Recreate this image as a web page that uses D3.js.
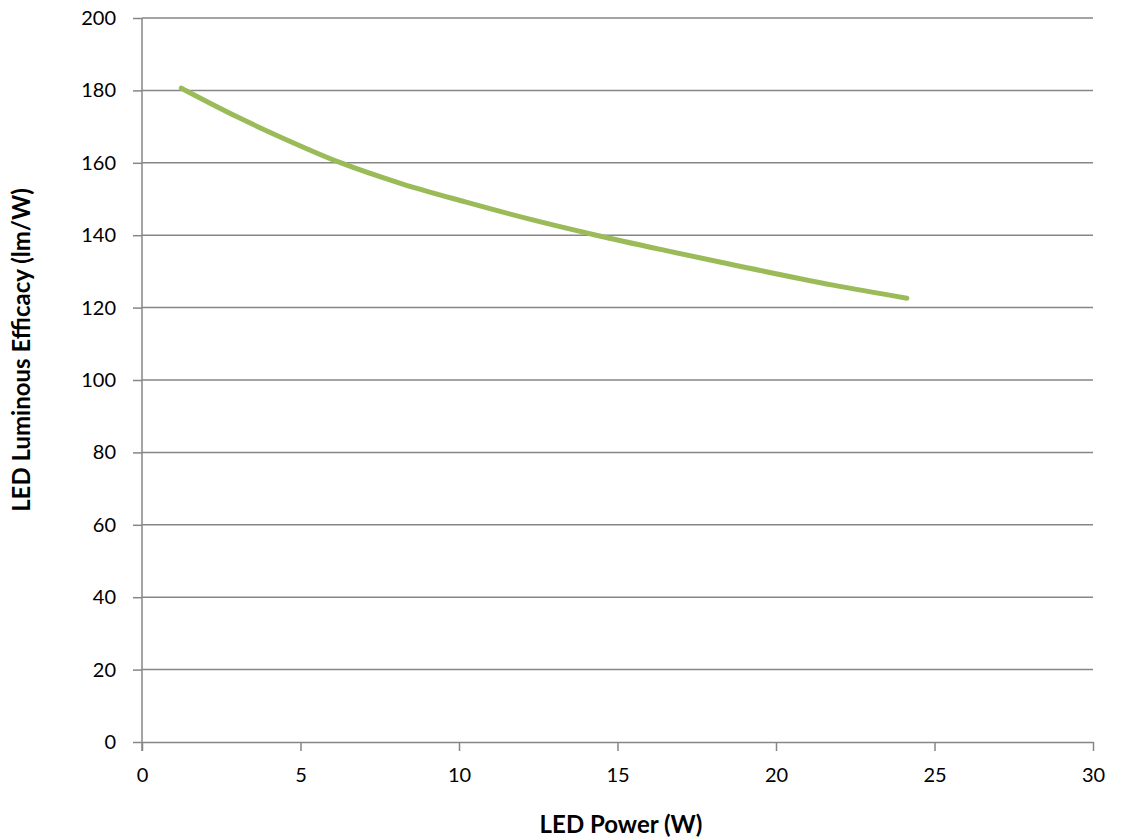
<!DOCTYPE html>
<html>
<head>
<meta charset="utf-8">
<script src="https://cdn.jsdelivr.net/npm/d3@7"></script>
<style>
    body { margin: 0; background: #fff; }
    svg { display: block; }
    text { font-family: Lato, "Open Sans", sans-serif; fill: #000; }
</style>
</head>
<body>
<div id="chart"></div>
<script>
// LED power (W) vs luminous efficacy (lm/W)
const powerW = [1.24, 3, 4.5, 6.24, 8.2, 10.2, 12.2, 14.33, 16.5, 18.6, 21.8, 24.13];
const efficacy = [180.6, 172.7, 166.6, 160.1, 154.2, 149.2, 144.5, 140.0, 135.8, 131.9, 126.2, 122.6];
const xTicks = [0, 5, 10, 15, 20, 25, 30];
const yTicks = [0, 20, 40, 60, 80, 100, 120, 140, 160, 180, 200];

const width = 1125, height = 839;
const margin = { top: 18, right: 32, bottom: 97, left: 142 };

const svg = d3.select("#chart").append("svg")
    .attr("width", width)
    .attr("height", height);

const x = d3.scaleLinear().domain([0, 30]).range([margin.left, width - margin.right]);
const y = d3.scaleLinear().domain([0, 200]).range([height - margin.bottom, margin.top]);

const gridColor = "#868686";

// horizontal gridlines
svg.append("g")
    .selectAll("line")
    .data(yTicks.filter(d => d > 0))
    .join("line")
    .attr("x1", x(0))
    .attr("x2", x(30))
    .attr("y1", d => y(d))
    .attr("y2", d => y(d))
    .attr("stroke", gridColor)
    .attr("stroke-width", 1.5);

// y axis
const yAxis = svg.append("g")
    .attr("transform", `translate(${x(0)},0)`)
    .call(d3.axisLeft(y).tickValues(yTicks).tickSize(9).tickPadding(17).tickSizeOuter(0));

// x axis
const xAxis = svg.append("g")
    .attr("transform", `translate(0,${y(0)})`)
    .call(d3.axisBottom(x).tickValues(xTicks).tickSize(9).tickPadding(17).tickSizeOuter(0));

[xAxis, yAxis].forEach(ax => {
    ax.select(".domain").attr("stroke", gridColor).attr("stroke-width", 1.5);
    ax.selectAll(".tick line").attr("stroke", gridColor).attr("stroke-width", 1.5);
    ax.selectAll(".tick text")
        .attr("font-size", 20)
        .attr("font-family", "Lato, 'Open Sans', sans-serif")
        .attr("fill", "#000");
});

// y axis line runs from 200 down past 0
yAxis.select(".domain").attr("d", `M0,${y(200)}V${y(0) + 9}`);

// data line
const points = powerW.map((p, i) => ({ p, e: efficacy[i] }));
const line = d3.line()
    .x(d => x(d.p))
    .y(d => y(d.e))
    .curve(d3.curveMonotoneX);

svg.append("path")
    .datum(points)
    .attr("d", line)
    .attr("fill", "none")
    .attr("stroke", "#9BBB59")
    .attr("stroke-width", 5)
    .attr("stroke-linecap", "round");

// axis titles
svg.append("text")
    .attr("x", 621)
    .attr("y", 833)
    .attr("text-anchor", "middle")
    .attr("font-size", 24)
    .attr("font-weight", "bold")
    .text("LED Power (W)");

svg.append("text")
    .attr("transform", "translate(30,350) rotate(-90)")
    .attr("text-anchor", "middle")
    .attr("font-size", 24)
    .attr("font-weight", "bold")
    .text("LED Luminous Efficacy (lm/W)");
</script>
</body>
</html>
